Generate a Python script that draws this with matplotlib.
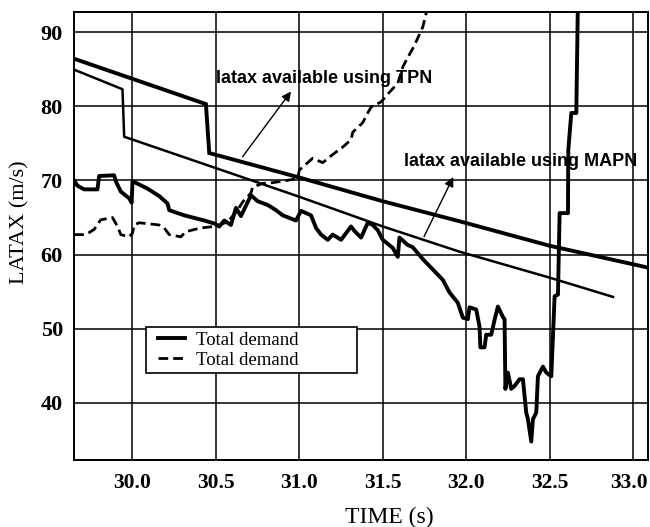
import matplotlib
matplotlib.use('Agg')
import matplotlib.pyplot as plt
from matplotlib.patches import Rectangle
from matplotlib.transforms import ScaledTranslation

# available latax, TPN guidance (thick line)
tpn_t = [29.60, 30.44, 30.46, 31.0, 31.5, 31.96, 32.5, 33.10]
tpn_v = [86.8, 80.3, 73.7, 70.4, 67.2, 64.5, 61.2, 58.2]

# available latax, MAPN guidance (thinner line)
mapn_t = [29.60, 29.94, 29.95, 30.69, 31.0, 31.5, 31.96, 32.5, 32.88]
mapn_v = [85.4, 82.3, 75.9, 70.2, 67.8, 63.8, 60.4, 56.9, 54.3]

# total demand, solid
dem1_t = [29.65, 29.67, 29.71, 29.79, 29.80, 29.89, 29.90, 29.93, 29.98, 29.995,
          30.0, 30.09, 30.16, 30.21, 30.22, 30.31, 30.43, 30.49, 30.52, 30.55,
          30.59, 30.62, 30.65, 30.71, 30.75, 30.81, 30.86, 30.90, 30.98, 31.01,
          31.07, 31.10, 31.13, 31.17, 31.20, 31.25, 31.31, 31.33, 31.37, 31.41,
          31.44, 31.47, 31.50, 31.56, 31.59, 31.60, 31.65, 31.68, 31.74, 31.80,
          31.86, 31.90, 31.95, 31.98, 32.01, 32.02, 32.06, 32.08, 32.085, 32.11,
          32.12, 32.15, 32.17, 32.19, 32.22, 32.23, 32.235, 32.25, 32.27, 32.29,
          32.32, 32.34, 32.36, 32.37, 32.39, 32.40, 32.42, 32.43, 32.46, 32.48,
          32.51, 32.53, 32.55, 32.56, 32.61, 32.612, 32.63, 32.66, 32.67]
dem1_v = [70.0, 69.3, 68.8, 68.8, 70.6, 70.7, 69.9, 68.5, 67.6, 67.0,
          69.9, 68.9, 67.9, 66.9, 66.0, 65.3, 64.6, 64.2, 63.8, 64.6,
          64.0, 66.3, 65.2, 68.0, 67.2, 66.7, 66.0, 65.3, 64.6, 65.9,
          65.3, 63.6, 62.7, 62.0, 62.7, 62.0, 63.8, 63.2, 62.3, 64.3,
          64.0, 63.3, 62.0, 60.9, 59.7, 62.3, 61.3, 61.0, 59.4, 58.0,
          56.6, 54.9, 53.5, 51.5, 51.3, 52.9, 52.6, 50.3, 47.5, 47.5,
          49.2, 49.2, 51.2, 53.0, 51.6, 51.3, 41.9, 44.1, 41.9, 42.3,
          43.2, 43.2, 38.7, 37.8, 34.8, 37.8, 38.7, 43.6, 44.9, 44.1,
          43.6, 54.4, 54.6, 65.6, 65.6, 74.1, 79.1, 79.1, 95.0]

# total demand, dashed
dem2_t = [29.65, 29.72, 29.77, 29.81, 29.88, 29.91, 29.93, 29.98, 30.0, 30.01,
          30.04, 30.16, 30.19, 30.22, 30.29, 30.32, 30.41, 30.49, 30.57, 30.63,
          30.66, 30.71, 30.72, 30.78, 30.84, 30.95, 30.99, 31.0, 31.08, 31.14,
          31.20, 31.26, 31.31, 31.32, 31.38, 31.41, 31.43, 31.49, 31.54, 31.59,
          31.62, 31.65, 31.68, 31.71, 31.74, 31.77]
dem2_v = [62.7, 62.7, 63.4, 64.7, 65.0, 63.8, 62.7, 62.4, 62.9, 64.0,
          64.3, 64.0, 63.6, 62.7, 62.4, 63.1, 63.6, 63.8, 64.4, 66.0,
          67.1, 68.3, 69.1, 69.6, 69.7, 70.1, 70.3, 71.4, 73.0, 72.4,
          73.5, 74.5, 75.5, 76.5, 77.8, 79.1, 79.9, 80.6, 81.9, 83.1,
          85.3, 86.6, 87.8, 89.2, 90.7, 93.5]

x_ticks = [30.0, 30.5, 31.0, 31.5, 32.0, 32.5, 33.0]
y_ticks = [40, 50, 60, 70, 80, 90]

serif = 'Liberation Serif'
sans = 'Liberation Sans'

fig = plt.figure(figsize=(6.5, 5.27), dpi=100)
ax = fig.add_axes([0.114, 0.127, 0.883, 0.850])

ax.plot(tpn_t, tpn_v, color='black', lw=2.8, solid_joinstyle='miter')
ax.plot(mapn_t, mapn_v, color='black', lw=1.8)
ax.plot(dem1_t, dem1_v, color='black', lw=2.8, label='Total demand')
ax.plot(dem2_t, dem2_v, color='black', lw=2.0, ls=(0, (3.5, 1.8)), label='Total demand')

ax.set_xlim(29.65, 33.09)
ax.set_ylim(32.3, 92.7)
ax.set_xticks(x_ticks)
ax.set_xticklabels(['%.1f' % t for t in x_ticks], fontfamily=serif,
                   fontweight='bold', fontsize=15.5)
ax.set_yticks(y_ticks)
ax.set_yticklabels([str(t) for t in y_ticks], fontfamily=serif,
                   fontweight='bold', fontsize=16)
ax.tick_params(axis='x', length=0, pad=9)
ax.tick_params(axis='y', length=0, pad=8)
ax.grid(True, color='black', lw=1.1)
for s in ax.spines.values():
    s.set_linewidth(1.4)

# last x label sits right at the figure edge, nudge it in a little
last = ax.get_xticklabels()[-1]
last.set_transform(last.get_transform() + ScaledTranslation(-4 / 100, 0, fig.dpi_scale_trans))

ax.set_xlabel('TIME (s)', fontfamily=serif, fontsize=17, labelpad=10)
ax.xaxis.set_label_coords(0.549, -0.105)
ax.set_ylabel('LATAX (m/s)', fontfamily=serif, fontsize=16, labelpad=6)
ax.yaxis.set_label_coords(-0.077, 0.53)

# annotations with arrows
ax.annotate('', xy=(30.96, 82.3), xytext=(30.65, 72.9),
            arrowprops=dict(arrowstyle='-|>', color='black', lw=1.0,
                            mutation_scale=14))
ax.text(30.5, 83.8, 'latax available using TPN', fontfamily=sans,
        fontweight='bold', fontsize=13, va='center', ha='left')
ax.annotate('', xy=(31.93, 70.8), xytext=(31.74, 62.1),
            arrowprops=dict(arrowstyle='-|>', color='black', lw=1.0,
                            mutation_scale=14))
ax.text(31.63, 72.5, 'latax available using MAPN', fontfamily=sans,
        fontweight='bold', fontsize=13, va='center', ha='left', clip_on=True)

# legend: drawn without its own frame, box added separately
ax.add_patch(Rectangle((0.1254, 0.194), 0.3676, 0.103, transform=ax.transAxes,
                       facecolor='white', edgecolor='black', lw=1.2, zorder=4))
leg = ax.legend(loc='center left', bbox_to_anchor=(0.146, 0.2455),
                prop={'family': serif, 'size': 13.5}, frameon=False,
                handlelength=1.45, handletextpad=0.6, borderpad=0.0,
                labelspacing=0.15, borderaxespad=0)
leg.set_zorder(5)

fig.savefig('out.png', dpi=100)
